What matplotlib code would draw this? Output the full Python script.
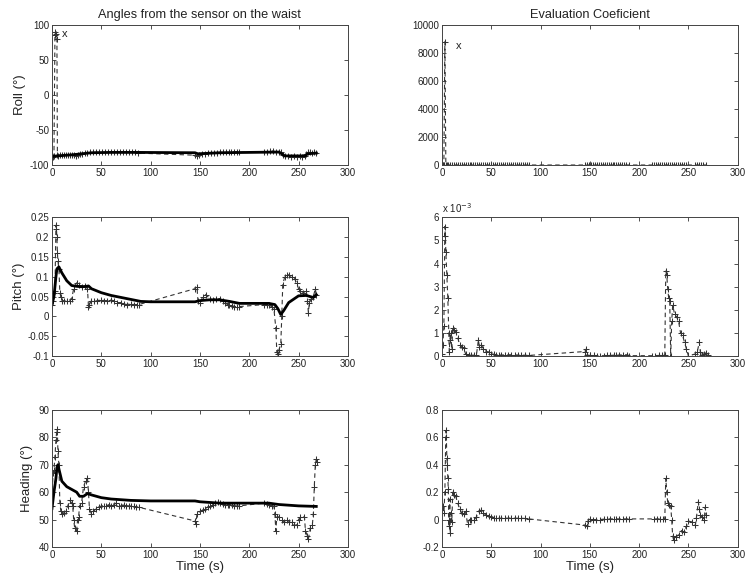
import numpy as np
import matplotlib.pyplot as plt
from matplotlib.ticker import FuncFormatter

plt.rcParams['font.family'] = ['Liberation Sans', 'DejaVu Sans']
plt.rcParams['axes.unicode_minus'] = False

# (time s, value) pairs
roll_meas = [(0, -88), (1, -88), (2, -87), (3, 85), (3.5, 90), (4, 87), (5, 80), (5.5, -86),
             (6, -87), (8, -86), (10, -86), (12, -85), (14, -85), (16, -85), (18, -85), (20, -85),
             (22, -86), (24, -87), (26, -85), (28, -84), (30, -84), (33, -83), (36, -83), (39, -82),
             (42, -82), (45, -82), (48, -82), (51, -82), (54, -82), (57, -82), (60, -82), (63, -82),
             (66, -82), (69, -82), (72, -82), (75, -82), (78, -82), (81, -82), (84, -82), (87, -83),
             (145, -86), (147, -87), (149, -85), (152, -84), (155, -84), (158, -83), (161, -83),
             (164, -83), (167, -83), (170, -82), (173, -82), (176, -82), (179, -82), (182, -82),
             (185, -81), (188, -81), (190, -82), (215, -81), (218, -81), (221, -80), (224, -80),
             (227, -81), (230, -81), (232, -82), (234, -85), (236, -87), (239, -87), (242, -88),
             (245, -87), (248, -88), (251, -87), (254, -88), (257, -87), (258, -84), (260, -82),
             (262, -82), (264, -83), (266, -82), (268, -83)]
roll_filt = [(0, -88), (5, -87), (10, -86.5), (20, -85.5), (30, -84), (40, -82.5), (60, -82),
             (88, -82), (145, -82.5), (148, -84), (155, -83.5), (170, -82.5), (200, -82),
             (230, -81.5), (233, -84), (236, -87), (257, -87), (259, -84), (268, -83)]

pitch_meas = [(0, 0.03), (1, 0.04), (2, 0.06), (3, 0.065), (4, 0.23), (4.5, 0.22), (5, 0.2),
              (5.5, 0.16), (6, 0.14), (7, 0.12), (8, 0.06), (9, 0.05), (10, 0.04), (12, 0.04),
              (15, 0.038), (18, 0.04), (20, 0.045), (22, 0.07), (25, 0.085), (27, 0.08),
              (30, 0.075), (33, 0.078), (36, 0.07), (37, 0.025), (38, 0.03), (40, 0.04),
              (43, 0.038), (46, 0.04), (50, 0.042), (53, 0.04), (56, 0.04), (60, 0.042),
              (63, 0.038), (66, 0.035), (70, 0.035), (73, 0.032), (76, 0.03), (80, 0.032),
              (83, 0.03), (86, 0.03), (88, 0.03), (145, 0.07), (147, 0.075), (148, 0.04),
              (150, 0.035), (153, 0.05), (156, 0.055), (160, 0.045), (163, 0.042), (166, 0.045),
              (170, 0.045), (173, 0.04), (175, 0.035), (178, 0.03), (180, 0.028), (183, 0.027),
              (185, 0.025), (188, 0.024), (190, 0.025), (215, 0.03), (218, 0.03), (220, 0.028),
              (223, 0.025), (225, 0.02), (227, -0.03), (228, -0.09), (229, -0.095), (230, -0.085),
              (232, -0.07), (233, 0.0), (234, 0.08), (236, 0.1), (238, 0.105), (240, 0.105),
              (243, 0.1), (246, 0.095), (248, 0.085), (250, 0.07), (252, 0.065), (255, 0.06),
              (258, 0.065), (259, 0.04), (260, 0.01), (261, 0.035), (263, 0.045), (265, 0.05),
              (267, 0.07), (268, 0.055)]
pitch_filt = [(0, 0.03), (2, 0.05), (4, 0.1), (5, 0.12), (7, 0.125), (10, 0.11), (15, 0.09),
              (20, 0.078), (25, 0.076), (30, 0.075), (35, 0.076), (37, 0.077), (40, 0.07),
              (50, 0.06), (60, 0.053), (70, 0.048), (80, 0.043), (90, 0.038), (100, 0.037),
              (145, 0.037), (150, 0.04), (160, 0.042), (170, 0.042), (180, 0.038), (190, 0.033),
              (220, 0.033), (226, 0.03), (229, 0.02), (232, 0.005), (235, 0.015), (240, 0.035),
              (250, 0.052), (258, 0.053), (262, 0.05), (265, 0.048), (268, 0.055)]

heading_meas = [(0, 55), (1, 67), (2, 68), (3, 73), (4, 79), (5, 83), (5.5, 82), (6, 75), (7, 70),
                (8, 56), (9, 53), (10, 52), (12, 52.5), (14, 53), (16, 55), (18, 57), (20, 56),
                (21, 55), (22, 50), (23, 47), (25, 46), (26, 50), (27, 51), (28, 55), (30, 56),
                (32, 62), (34, 64), (36, 65), (37, 60), (38, 54), (40, 52), (42, 53), (45, 54),
                (48, 54.5), (50, 55), (53, 55), (55, 55), (58, 55.5), (60, 55), (63, 55.5),
                (65, 56), (68, 55), (70, 55), (73, 55.5), (75, 55), (78, 55), (80, 55),
                (83, 54.8), (85, 54.5), (88, 54.5), (145, 49.5), (146, 48.5), (147, 52),
                (150, 53), (153, 53.5), (155, 54), (158, 54.5), (160, 55), (163, 55.5), (165, 56),
                (168, 56.3), (170, 56), (173, 55.8), (175, 55.5), (178, 55.5), (180, 55.5),
                (183, 55.2), (185, 55), (188, 55), (190, 55), (215, 56), (218, 55.8), (220, 55.5),
                (223, 55), (225, 55), (226, 52), (227, 46), (228, 51), (230, 51), (233, 50),
                (235, 49), (238, 50), (240, 49), (243, 49), (245, 48), (248, 48), (250, 50),
                (252, 51), (256, 51), (257, 46), (259, 44), (260, 43), (262, 47), (264, 48),
                (265, 52), (266, 62), (267, 70), (268, 72), (269, 71)]
heading_filt = [(0, 54), (2, 60), (4, 65), (5, 69), (6, 70), (8, 67), (10, 64), (15, 62),
                (20, 61), (25, 60), (28, 58.5), (32, 58.5), (36, 59.5), (40, 59), (50, 58),
                (60, 57.5), (80, 57), (100, 56.8), (145, 56.8), (150, 56.5), (170, 56),
                (200, 56), (220, 56), (230, 55.5), (250, 55), (268, 54.8)]

eval_roll = [(0, 0), (1, 0), (2, 0), (3, 8800), (4, 0), (5, 0), (6, 0), (8, 0), (10, 0), (12, 0),
             (14, 0), (16, 0), (18, 0), (20, 0), (22, 0), (24, 0), (26, 0), (28, 0), (30, 0),
             (32, 0), (34, 0), (36, 0), (38, 0), (40, 0), (42, 0), (44, 0), (46, 0), (48, 0),
             (50, 0), (52, 0), (54, 0), (56, 0), (58, 0), (60, 0), (62, 0), (64, 0), (66, 0),
             (68, 0), (70, 0), (72, 0), (74, 0), (76, 0), (78, 0), (80, 0), (82, 0), (84, 0),
             (86, 0), (88, 0), (145, 0), (147, 0), (149, 0), (151, 0), (153, 0), (155, 0),
             (157, 0), (159, 0), (161, 0), (163, 0), (165, 0), (167, 0), (169, 0), (171, 0),
             (173, 0), (175, 0), (177, 0), (179, 0), (181, 0), (183, 0), (185, 0), (187, 0),
             (190, 0), (213, 0), (215, 0), (217, 0), (219, 0), (221, 0), (223, 0), (225, 0),
             (227, 0), (229, 0), (231, 0), (233, 0), (235, 0), (237, 0), (239, 0), (241, 0),
             (243, 0), (245, 0), (248, 0), (257, 0), (259, 0), (261, 0), (263, 0), (265, 0),
             (268, 0)]

eval_pitch_e3 = [(0, 0.1), (1, 0.5), (2, 1.3), (3, 5.6), (3.5, 5.2), (4, 4.5), (5, 3.5), (6, 2.5),
                 (7, 1.0), (7.5, 0.2), (8, 0.7), (9, 1.0), (10, 0.3), (11, 1.2), (12, 1.15),
                 (14, 1.05), (16, 0.8), (18, 0.5), (20, 0.4), (22, 0.35), (24, 0.1), (27, 0.05),
                 (30, 0.04), (33, 0.04), (35, 0.05), (37, 0.7), (38, 0.4), (40, 0.5), (42, 0.3),
                 (45, 0.2), (48, 0.18), (50, 0.1), (53, 0.08), (55, 0.06), (58, 0.05), (60, 0.05),
                 (64, 0.05), (67, 0.06), (70, 0.06), (74, 0.05), (77, 0.05), (80, 0.04), (84, 0.04),
                 (88, 0.03), (145, 0.2), (146, 0.3), (147, 0.05), (150, 0.03), (154, 0.03),
                 (157, 0.02), (160, 0.02), (164, 0.02), (167, 0.03), (170, 0.03), (174, 0.04),
                 (177, 0.04), (180, 0.05), (184, 0.06), (188, 0.06), (190, 0.02), (213, 0.02),
                 (216, 0.02), (220, 0.03), (223, 0.03), (226, 0.05), (227, 3.7), (228, 3.5),
                 (229, 2.9), (230, 2.5), (231, 2.4), (232, 0.0), (233, 1.5), (234, 2.2),
                 (236, 1.8), (238, 1.7), (240, 1.5), (242, 1.0), (244, 0.9), (246, 0.6),
                 (248, 0.3), (250, 0.0), (257, 0.1), (259, 0.2), (261, 0.6), (262, 0.2),
                 (264, 0.05), (266, 0.1), (268, 0.15), (270, 0.05)]

eval_heading = [(0, 0.05), (1, 0.1), (2, 0.05), (3, 0.2), (4, 0.65), (4.5, 0.6), (5, 0.45),
                (5.5, 0.4), (6, 0.3), (6.5, 0.22), (7, -0.05), (7.5, 0.0), (8, 0.15), (8.5, -0.1),
                (9, 0.05), (10, -0.02), (11, 0.2), (12, 0.18), (14, 0.17), (16, 0.12), (18, 0.08),
                (20, 0.05), (22, 0.04), (24, 0.06), (26, -0.03), (28, 0.0), (30, 0.0), (33, 0.0),
                (35, 0.02), (38, 0.06), (40, 0.07), (42, 0.05), (45, 0.03), (48, 0.025),
                (50, 0.02), (53, 0.015), (55, 0.01), (58, 0.01), (60, 0.01), (64, 0.01),
                (67, 0.01), (70, 0.012), (74, 0.01), (77, 0.01), (80, 0.01), (84, 0.008),
                (88, 0.005), (145, -0.04), (147, -0.05), (148, -0.01), (150, 0.005), (153, 0.0),
                (156, 0.0), (160, 0.0), (164, 0.003), (167, 0.005), (170, 0.005), (174, 0.005),
                (177, 0.005), (180, 0.005), (184, 0.005), (187, 0.005), (190, 0.005),
                (215, 0.005), (218, 0.005), (221, 0.005), (224, 0.005), (226, 0.005), (227, 0.3),
                (228, 0.2), (229, 0.12), (230, 0.11), (232, 0.1), (233, 0.0), (234, -0.12),
                (235, -0.15), (237, -0.13), (240, -0.11), (243, -0.08), (245, -0.09),
                (248, -0.05), (250, -0.01), (254, -0.02), (257, -0.04), (258, 0.01), (260, 0.13),
                (261, 0.08), (262, 0.03), (264, 0.02), (266, 0.0), (267, 0.09), (268, 0.03)]

txt = '#222222'
fig = plt.figure(figsize=(7.49, 5.81), dpi=100)

# axes rectangles in figure fractions (left, bottom, width, height)
ax_roll = fig.add_axes([0.0694, 0.716, 0.395, 0.241])
ax_eroll = fig.add_axes([0.590, 0.716, 0.395, 0.241])
ax_pitch = fig.add_axes([0.0694, 0.387, 0.395, 0.239])
ax_epitch = fig.add_axes([0.590, 0.387, 0.395, 0.239])
ax_head = fig.add_axes([0.0694, 0.0585, 0.395, 0.236])
ax_ehead = fig.add_axes([0.590, 0.0585, 0.395, 0.236])


def meas(ax, pairs, scale=1.0):
    t, v = np.array(pairs, dtype=float).T
    ax.plot(t, v * scale, color='#333333', ls=(0, (4, 3)), lw=0.8,
            marker='+', ms=3.8, mew=0.75)


def filt(ax, pairs):
    t, v = np.array(pairs, dtype=float).T
    ax.plot(t, v, color='black', lw=2.0)


def style(ax, ylim, yticks):
    ax.set_xlim(0, 300)
    ax.set_xticks(range(0, 301, 50))
    ax.set_ylim(*ylim)
    ax.set_yticks(yticks)
    ax.yaxis.set_major_formatter(FuncFormatter(lambda v, p: '%g' % round(v, 6)))
    ax.tick_params(direction='in', top=True, right=True, length=3, width=0.6,
                   labelsize=7, colors='#333333', labelcolor=txt, pad=2)
    for s in ax.spines.values():
        s.set_color('#444444')
        s.set_linewidth(0.7)


meas(ax_roll, roll_meas)
filt(ax_roll, roll_filt)
style(ax_roll, (-100, 100), [-100, -50, 0, 50, 100])
ax_roll.text(10, 83, 'x', fontsize=8, color=txt)
ax_roll.set_title('Angles from the sensor on the waist', fontsize=9.2, color=txt, pad=5)
ax_roll.set_ylabel('Roll (°)', fontsize=9.5, color=txt)
ax_roll.yaxis.set_label_coords(-0.088, 0.5)

meas(ax_eroll, eval_roll)
style(ax_eroll, (0, 10000), range(0, 10001, 2000))
ax_eroll.text(14, 8300, 'x', fontsize=8, color=txt)
ax_eroll.set_title('Evaluation Coeficient', fontsize=9.2, color=txt, pad=5)

meas(ax_pitch, pitch_meas)
filt(ax_pitch, pitch_filt)
style(ax_pitch, (-0.1, 0.25), [-0.1, -0.05, 0, 0.05, 0.1, 0.15, 0.2, 0.25])
ax_pitch.set_ylabel('Pitch (°)', fontsize=9.5, color=txt)
ax_pitch.yaxis.set_label_coords(-0.091, 0.5)

meas(ax_epitch, eval_pitch_e3, 1e-3)
style(ax_epitch, (0, 0.006), [i * 1e-3 for i in range(7)])
ax_epitch.yaxis.set_major_formatter(FuncFormatter(lambda v, p: '%g' % round(v * 1e3, 6)))
ax_epitch.text(0.0, 1.02, 'x 10$^{-3}$', transform=ax_epitch.transAxes,
               fontsize=7, color=txt, va='bottom')

meas(ax_head, heading_meas)
filt(ax_head, heading_filt)
style(ax_head, (40, 90), range(40, 91, 10))
ax_head.set_ylabel('Heading (°)', fontsize=9.5, color=txt)
ax_head.yaxis.set_label_coords(-0.064, 0.5)
ax_head.set_xlabel('Time (s)', fontsize=9.5, color=txt, labelpad=1)

meas(ax_ehead, eval_heading)
style(ax_ehead, (-0.2, 0.8), [-0.2, 0, 0.2, 0.4, 0.6, 0.8])
ax_ehead.set_xlabel('Time (s)', fontsize=9.5, color=txt, labelpad=1)

fig.savefig('out.png', dpi=100)
